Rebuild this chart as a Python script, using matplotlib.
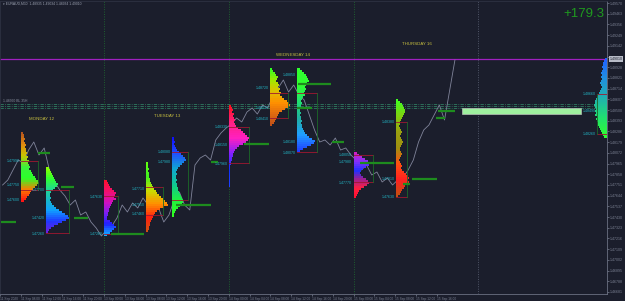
import numpy as np
import matplotlib.pyplot as plt
from matplotlib.colors import LinearSegmentedColormap
from matplotlib.patches import Rectangle

plt.rcParams['font.family'] = ['Liberation Sans', 'DejaVu Sans']

# ---- data (x = hours from the 13 Sep separator) ----
hours = np.arange(-19.5, 68.5, 1.0)
closes = [1.47750, 1.47800, 1.47900, 1.48000, 1.47970, 1.48100, 1.48180, 1.48050,
          1.48120, 1.47900, 1.47780, 1.47700, 1.47640, 1.47550, 1.47600, 1.47450,
          1.47480, 1.47380, 1.47320, 1.47240, 1.47300, 1.47340, 1.47420, 1.47550,
          1.47480, 1.47570, 1.47520, 1.47620, 1.47550, 1.47480, 1.47520, 1.47380,
          1.47450, 1.47600, 1.47680, 1.47550, 1.47500, 1.47950, 1.48020, 1.48050,
          1.48000, 1.48200, 1.48270, 1.48320, 1.48360, 1.48420, 1.48380, 1.48480,
          1.48520, 1.48460, 1.48550, 1.48520, 1.48640, 1.48720, 1.48800, 1.48680,
          1.48750, 1.48650, 1.48600, 1.48450, 1.48300, 1.48180, 1.48200, 1.48150,
          1.48220, 1.48100, 1.48120, 1.48050, 1.48000, 1.47900, 1.47950, 1.47850,
          1.47880, 1.47780, 1.47820, 1.47750, 1.47800, 1.47820, 1.47900, 1.48000,
          1.48180, 1.48300, 1.48350, 1.48450, 1.48550, 1.48400, 1.48700, 1.49000]

# volume profiles: start time, top price, volumes per 2-pip row (top -> bottom)
prof_start = [-16.0, -11.2, 0.0, 8.0, 13.0, 24.0, 32.0, 37.2, 48.0, 56.2, 96.75]
prof_top = [1.4828, 1.4793, 1.4780, 1.4798, 1.4823, 1.4855, 1.4892, 1.4892, 1.4808, 1.4861, 1.4902]
prof_side = [1, 1, 1, 1, 1, 1, 1, 1, 1, 1, -1]
prof_vol = [
    [2, 3, 3, 4, 3, 4, 5, 4, 5, 5, 6, 5, 7, 6, 8, 7, 8, 9, 8, 10, 11, 12, 14, 15,
     17, 18, 16, 14, 12, 10, 9, 8, 6, 5, 3],
    [3, 4, 5, 6, 7, 8, 9, 10, 12, 11, 9, 7, 5, 4, 4, 5, 4, 5, 6, 8, 10, 13,
     16, 19, 22, 23, 20, 16, 12, 8, 5, 3, 2],
    [3, 4, 5, 6, 8, 10, 12, 11, 10, 12, 9, 8, 7, 6, 5, 5, 4, 4, 3, 3,
     6, 8, 10, 12, 10, 8, 6, 3],
    [2, 2, 2, 3, 2, 3, 3, 3, 4, 4, 5, 6, 7, 8, 10, 11, 13, 15, 17, 19, 21, 22,
     18, 14, 11, 9, 8, 7, 6, 5, 4, 4, 3, 3, 2],
    [2, 2, 3, 2, 3, 4, 5, 7, 9, 11, 13, 14, 12, 10, 8, 6, 5, 4, 5, 4, 4, 5, 4, 5,
     5, 6, 6, 7, 8, 9, 10, 11, 11, 10, 8, 6, 4, 3, 2, 2],
    [2, 3, 4, 3, 5, 4, 5, 6, 5, 6, 7, 9, 12, 14, 16, 18, 20, 19, 17, 14, 10,
     8, 6, 5, 4, 4, 3, 3, 2, 2, 1, 1, 1, 1, 1, 1, 1, 1, 1, 1, 1],
    [2, 3, 5, 6, 8, 7, 6, 8, 9, 8, 10, 9, 11, 10, 12, 14, 17, 19, 20, 18, 15, 12,
     9, 8, 7, 6, 5, 4, 2],
    [3, 5, 7, 9, 10, 11, 12, 10, 9, 8, 9, 8, 7, 8, 6, 5, 4, 5, 4, 4, 3, 3, 4, 3,
     4, 4, 5, 4, 5, 5, 6, 7, 8, 10, 12, 15, 18, 17, 14, 10, 6, 3],
    [3, 5, 8, 11, 14, 17, 15, 12, 9, 7, 6, 7, 9, 12, 14, 15, 13, 10, 7, 5, 4, 3, 2],
    [2, 4, 6, 7, 8, 9, 9, 8, 7, 6, 5, 4, 4, 3, 4, 5, 6, 5, 4, 5, 6, 7, 6, 5, 4, 4,
     5, 6, 5, 4, 3, 4, 5, 6, 5, 6, 8, 10, 12, 13, 12, 13, 11, 9, 8, 6, 5, 4, 2],
    [2, 3, 4, 4, 5, 4, 5, 6, 5, 6, 5, 6, 7, 6, 5, 6, 7, 8, 9, 10, 11, 12, 12, 13,
     12, 11, 12, 11, 12, 10, 11, 10, 9, 9, 8, 7, 6, 5, 4, 3],
]
prof_colors = [
    ["#b8561c", "#e08a10", "#c8c400", "#3cf03c", "#2aff2a", "#ff7a00", "#ff1414"],
    ["#8cff00", "#30ff30", "#20d890", "#18b8c8", "#10a0ff", "#2038ff", "#6a20e0"],
    ["#ff1030", "#f01070", "#d010c0", "#7a20f0", "#2020ff", "#10b0ff"],
    ["#60ff10", "#40f020", "#c8e000", "#ff9000", "#ff2010", "#d05010"],
    ["#1010ff", "#2050ff", "#10a8d0", "#10c890", "#20f040", "#30ff20"],
    ["#ff1020", "#ff2080", "#ff20c0", "#8020ff", "#1030ff", "#2040ff"],
    ["#30ff20", "#a0e800", "#e0c000", "#ff9000", "#e06a10", "#c05018"],
    ["#30ff30", "#30ff30", "#20e070", "#20b0a0", "#20a0ff", "#2040ff"],
    ["#d020c0", "#8030ff", "#2030ff", "#a02090", "#ff2040", "#ff1030"],
    ["#40ff20", "#80d010", "#9aa010", "#a09010", "#ff5010", "#ff2020", "#c05010"],
    ["#2060ff", "#2090e0", "#20b0b0", "#20e070", "#30ff30"],
]
va_high = [1.4799, 1.4770, 1.4764, 1.4773, 1.4808, 1.4833, 1.4867, 1.4867, 1.4805, 1.4838, 1.4866]
va_low = [1.4770, 1.4727, 1.4726, 1.4745, 1.4760, 1.4797, 1.4842, 1.4808, 1.4778, 1.4763, 1.4826]
va_width = [17, 23, 14, 17, 16, 20, 18, 20, 19, 11, 10]
prof_labels = [[1.4799, 1.4775, 1.4760], [1.4770, 1.4742, 1.4726], [1.4763, 1.4726],
               [1.4771, 1.4755, 1.4746], [1.4808, 1.4798], [1.4833, 1.4815, 1.4796],
               [1.4872, 1.4852, 1.4841], [1.4885, 1.4818, 1.4807],
               [1.4805, 1.4798, 1.4777], [1.4838, 1.4781, 1.4763],
               [1.4866, 1.4849, 1.4826]]

# naked POC extensions
poc_t0 = [-19.8, -12.7, -8.3, -5.8, 1.3, 13.8, 20.5, 26.9, 37.2, 37.4, 43.9, 49.3, 57.6, 59.3, 63.9, 64.3]
poc_t1 = [-16.9, -10.4, -5.8, -3.1, 7.7, 20.5, 21.9, 31.7, 40.1, 43.6, 46.1, 55.7, 58.9, 64.1, 65.6, 67.6]
poc_price = [1.4738, 1.4807, 1.4773, 1.4742, 1.4726, 1.4755, 1.4798, 1.4816, 1.4852,
             1.4876, 1.4818, 1.4797, 1.4776, 1.4781, 1.4842, 1.4849]

day_names = ["MONDAY 12", "TUESDAY 13", "WEDNESDAY 14", "THURSDAY 16"]
day_x = [-14.4, 9.6, 33.0, 57.4]
day_y = [1.4841, 1.4844, 1.4905, 1.4916]

level_lines = [1.4856, 1.4854, 1.4852]
bid = 1.4901

time_ticks = [-20, -16, -12, -8, -4, 0, 4, 8, 12, 16, 20, 24, 28, 32, 36, 40, 44, 48, 52, 56, 60, 64]
time_labels = ["11 Sep 2020", "11 Sep 08:00", "11 Sep 12:00", "11 Sep 16:00", "11 Sep 20:00",
               "13 Sep 00:00", "13 Sep 04:00", "13 Sep 08:00", "13 Sep 12:00", "13 Sep 16:00",
               "13 Sep 20:00", "14 Sep 00:00", "14 Sep 04:00", "14 Sep 08:00", "14 Sep 12:00",
               "14 Sep 16:00", "14 Sep 20:00", "15 Sep 00:00", "15 Sep 04:00", "15 Sep 08:00",
               "15 Sep 12:00", "15 Sep 16:00"]
price_ticks = [1.49570, 1.49463, 1.49356, 1.49249, 1.49142, 1.49035, 1.48928, 1.48821,
               1.48714, 1.48607, 1.48500, 1.48393, 1.48286, 1.48179, 1.48072, 1.47965,
               1.47858, 1.47751, 1.47644, 1.47537, 1.47430, 1.47323, 1.47216, 1.47109,
               1.47002, 1.46895, 1.46788, 1.46681]

BG = "#1b1e2c"
ROW = 0.0002          # profile row height (2 pips)
VOL2H = 0.192         # hours per volume unit

fig = plt.figure(figsize=(6.25, 3.01), dpi=100, facecolor=BG)
ax = fig.add_axes([0, 7 / 301, 607 / 625, 293 / 301], facecolor=BG)
ax.set_xlim(-19.8, 96.75)
ax.set_ylim(1.4666, 1.4959)

# day separators
for t in [0, 24, 48]:
    ax.axvline(t, color="#1f6030", lw=0.7, ls=(0, (1, 1.5)), zorder=1)
ax.axvline(72, color="#505668", lw=0.7, ls=(0, (1, 1.5)), zorder=1)

# levels
for p in level_lines:
    ax.axhline(p, color="#2f7c60", lw=0.6, ls=(0, (4, 1.5, 1, 1.5)), zorder=1)
ax.axhline(bid, color="#a020c0", lw=0.9, zorder=2)
ax.add_patch(Rectangle((68.9, 1.4846), 22.9, 0.00063, facecolor="#9ef09e",
                       edgecolor="#b8c0b8", lw=0.5, zorder=2))

# price line
ax.plot(hours, closes, color="#80849a", lw=0.6, zorder=2)

# volume profiles
for i in range(len(prof_vol)):
    vols = np.array(prof_vol[i])
    n = len(vols)
    cmap = LinearSegmentedColormap.from_list("p%d" % i, prof_colors[i])
    cols = cmap(np.linspace(0, 1, n))
    ys = prof_top[i] - (np.arange(n) + 0.5) * ROW
    w = vols * VOL2H
    if prof_side[i] > 0:
        left = prof_start[i]
        box_x = prof_start[i]
    else:
        left = prof_start[i] - w
        box_x = prof_start[i] - va_width[i] * VOL2H
    ax.barh(ys, w, left=left, height=ROW, color=cols, lw=0, zorder=3)
    bw = va_width[i] * VOL2H
    ax.plot([box_x, box_x + bw], [va_high[i]] * 2, color="#a01830", lw=0.6, zorder=4)
    ax.plot([box_x, box_x + bw], [va_low[i]] * 2, color="#a01830", lw=0.6, zorder=4)
    ax.plot([box_x + bw * (prof_side[i] > 0)] * 2, [va_low[i], va_high[i]],
            color="#1c6a28", lw=0.6, zorder=4)
    for lp in prof_labels[i]:
        ax.text(box_x - 0.25, lp, "%.5f" % lp, color="#22b4c4", fontsize=2.6,
                ha="right", va="center", zorder=5)

# naked POC lines
for t0, t1, p in zip(poc_t0, poc_t1, poc_price):
    ax.plot([t0, t1], [p, p], color="#1e8c1e", lw=1.6, solid_capstyle="butt", zorder=4)

for name, x, y in zip(day_names, day_x, day_y):
    ax.text(x, y, name, color="#c8c040", fontsize=3.2, ha="left", va="center", zorder=5)

ax.text(88.4, 1.4946, "+179.3", color="#1f9a1f", fontsize=9.5, ha="left", va="center")
ax.text(-19.5, 1.4956, "\u25be EURAUD,M30  1.48935 1.49034 1.48934 1.49010",
        color="#9aa0b0", fontsize=2.4, ha="left", va="center")
ax.text(-19.5, 1.4857, "1.48560 BL 35H", color="#8a90a0", fontsize=2.4,
        ha="left", va="bottom")

# axes
ax.set_xticks(time_ticks)
ax.set_xticklabels(time_labels)
for lbl in ax.get_xticklabels():
    lbl.set_ha("left")
ax.set_yticks(price_ticks)
# the bid box hides the tick label right under it, as in the terminal
ax.set_yticklabels(["" if abs(p - bid) < 0.0004 else "%.5f" % p for p in price_ticks])
ax.yaxis.tick_right()
ax.tick_params(axis="x", colors="#7a8092", labelsize=2.3, length=1.5, width=0.5, pad=0.8)
ax.tick_params(axis="y", colors="#7a8092", labelsize=2.6, length=1.5, width=0.5, pad=0.8)
for s in ["right", "bottom"]:
    ax.spines[s].set_color("#6a7082")
    ax.spines[s].set_linewidth(0.6)
for s in ["left", "top"]:
    ax.spines[s].set_color("#2e3242")
    ax.spines[s].set_linewidth(0.6)

ax.text(1.004, bid, "%.5f" % bid, transform=ax.get_yaxis_transform(), fontsize=2.6,
        color="#1b1e2c", ha="left", va="center",
        bbox=dict(boxstyle="square,pad=0.15", fc="#b8bcc8", ec="none"))

fig.savefig("out.png", dpi=100, facecolor=BG)
